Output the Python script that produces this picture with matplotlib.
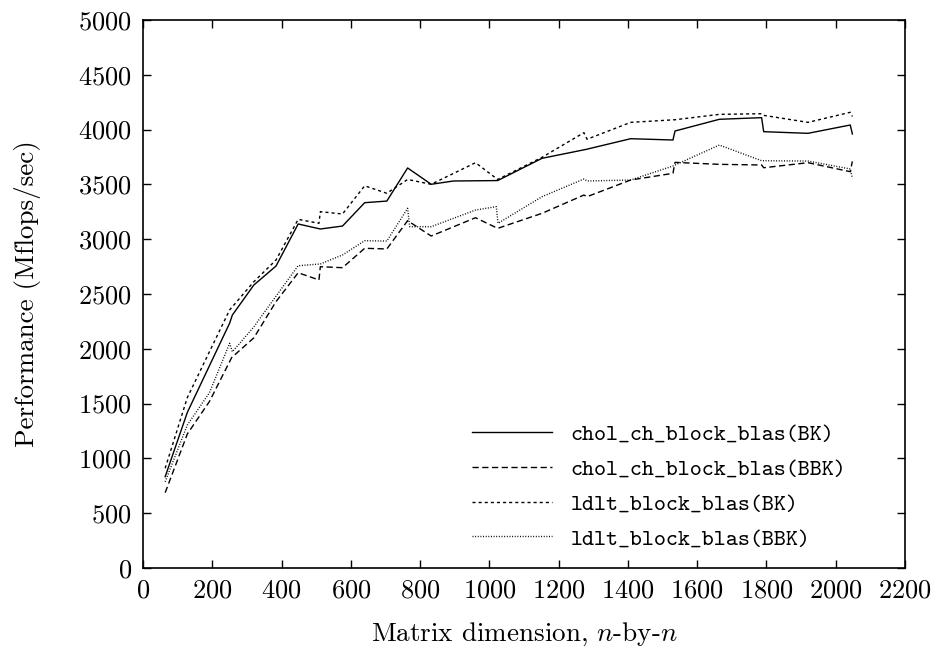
import matplotlib
matplotlib.use("Agg")
import matplotlib.pyplot as plt

# data
chol_bk_n = [64, 128, 250, 258, 320, 384, 448, 512, 576, 640, 704, 764, 832, 896, 1024,
             1152, 1280, 1408, 1530, 1536, 1664, 1786, 1792, 1920, 2042, 2048]
chol_bk_mf = [833, 1420, 2233, 2308, 2582, 2755, 3139, 3093, 3120, 3333, 3348, 3650, 3501, 3531, 3535,
              3738, 3820, 3917, 3905, 3987, 4094, 4109, 3981, 3966, 4042, 3960]

chol_bbk_n = [64, 128, 192, 256, 320, 384, 448, 508, 512, 576, 640, 704, 764, 832, 960, 1024,
              1152, 1273, 1282, 1408, 1530, 1536, 1664, 1786, 1792, 1920, 2042, 2048]
chol_bbk_mf = [687, 1223, 1520, 1920, 2100, 2430, 2694, 2628, 2749, 2740, 2917, 2911, 3169, 3029, 3196, 3099,
               3236, 3403, 3388, 3540, 3601, 3701, 3683, 3677, 3652, 3698, 3616, 3710]

ldlt_bk_n = [64, 128, 250, 320, 384, 448, 508, 512, 576, 640, 704, 764, 832, 960, 1024,
             1152, 1273, 1282, 1408, 1536, 1664, 1786, 1792, 1920, 2042, 2048]
ldlt_bk_mf = [910, 1555, 2354, 2612, 2810, 3181, 3145, 3251, 3230, 3487, 3419, 3545, 3501, 3698, 3545,
              3747, 3972, 3912, 4066, 4090, 4139, 4145, 4130, 4066, 4158, 4120]

ldlt_bbk_n = [64, 128, 192, 250, 258, 320, 384, 448, 512, 576, 640, 704, 764, 770, 832, 960, 1020, 1025,
              1152, 1273, 1282, 1408, 1530, 1664, 1786, 1920, 2042, 2048]
ldlt_bbk_mf = [787, 1305, 1600, 2050, 1973, 2200, 2480, 2758, 2774, 2856, 2986, 2983, 3282, 3114, 3114, 3266, 3297, 3145,
               3388, 3549, 3531, 3540, 3668, 3859, 3716, 3713, 3641, 3555]

labels = ["chol_ch_block_blas(BK)", "chol_ch_block_blas(BBK)",
          "ldlt_block_blas(BK)", "ldlt_block_blas(BBK)"]

plt.rcParams["font.family"] = "serif"
plt.rcParams["font.serif"] = ["cmr10"]
plt.rcParams["mathtext.fontset"] = "cm"
plt.rcParams["axes.unicode_minus"] = False
plt.rcParams["axes.formatter.use_mathtext"] = True

fig = plt.figure(figsize=(9.38, 6.58), dpi=100)
ax = fig.add_axes([143 / 938, 1 - 568 / 658, 762 / 938, 548 / 658])

ax.plot(chol_bk_n, chol_bk_mf, color="black", lw=1.0, ls="-", label=labels[0])
ax.plot(chol_bbk_n, chol_bbk_mf, color="black", lw=1.0, ls=(0, (4.5, 2.5)), label=labels[1])
ax.plot(ldlt_bk_n, ldlt_bk_mf, color="black", lw=1.0, ls=(0, (2.2, 2.2)), label=labels[2])
ax.plot(ldlt_bbk_n, ldlt_bbk_mf, color="black", lw=1.0, ls=(0, (0.7, 1.2)), label=labels[3])

ax.set_xlim(0, 2200)
ax.set_ylim(0, 5000)
ax.set_xticks(range(0, 2201, 200))
ax.set_yticks(range(0, 5001, 500))
ax.tick_params(direction="in", length=6, width=1, top=True, right=True, labelsize=19, pad=8)
for s in ax.spines.values():
    s.set_linewidth(1.2)

ax.set_xlabel("Matrix dimension, $n$-by-$n$", fontsize=19.5, labelpad=13)
ax.set_ylabel("Performance (Mflops/sec)", fontsize=19.5, labelpad=27)

leg = ax.legend(loc="upper left", bbox_to_anchor=((472 - 143) / 762, (568 - 424) / 548),
                frameon=False, borderpad=0, borderaxespad=0, handlelength=3.5,
                handletextpad=0.8, labelspacing=0.6,
                prop={"family": "cmtt10", "size": 16.5})

fig.savefig("out.png", dpi=100)
